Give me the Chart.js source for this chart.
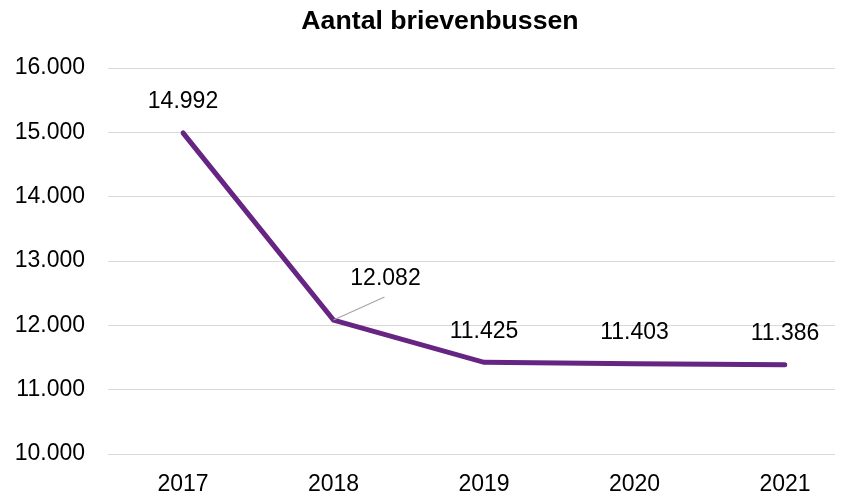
<!DOCTYPE html>
<html>
<head>
<meta charset="utf-8">
<script src="https://cdn.jsdelivr.net/npm/chart.js@4"></script>
<style>
  body { margin: 0; background: #fff; }
</style>
</head>
<body>
<canvas id="chart" width="852" height="496"></canvas>
<script>
const years = ['2017', '2018', '2019', '2020', '2021'];
const brievenbussen = [14992, 12082, 11425, 11403, 11386];
const chartTitle = 'Aantal brievenbussen';

// 16000 -> "16.000"
function fmt(v) {
    return String(Math.round(v)).replace(/\B(?=(\d{3})+(?!\d))/g, '.');
}

Chart.defaults.font.family = "'Liberation Sans', Arial, sans-serif";
Chart.defaults.font.size = 23;
Chart.defaults.color = '#000';

// title drawn a bit right of canvas centre, like the original
const titlePlugin = {
    id: 'titleText',
    afterDraw(chart) {
        const ctx = chart.ctx;
        ctx.save();
        ctx.font = "bold 26.7px 'Liberation Sans', Arial, sans-serif";
        ctx.fillStyle = '#000';
        ctx.textAlign = 'center';
        ctx.textBaseline = 'middle';
        ctx.fillText(chartTitle, 440, 22);
        ctx.restore();
    }
};

// value labels above the points, 2018 pushed aside with a leader line
const valueLabels = {
    id: 'valueLabels',
    afterDatasetsDraw(chart) {
        const ctx = chart.ctx;
        const meta = chart.getDatasetMeta(0);
        ctx.save();
        ctx.font = "23px 'Liberation Sans', Arial, sans-serif";
        ctx.fillStyle = '#000';
        ctx.textAlign = 'center';
        ctx.textBaseline = 'middle';
        meta.data.forEach((pt, i) => {
            let dx = 0, dy = -31;
            if (i === 1) {
                dx = 52; dy = -41;
                ctx.strokeStyle = '#a6a6a6';
                ctx.lineWidth = 1.2;
                ctx.beginPath();
                ctx.moveTo(pt.x, pt.y);
                ctx.lineTo(pt.x + 51, pt.y - 23);
                ctx.stroke();
            }
            ctx.fillText(fmt(brievenbussen[i]), pt.x + dx, pt.y + dy);
        });
        ctx.restore();
    }
};

const ctx = document.getElementById('chart').getContext('2d');

new Chart(ctx, {
    type: 'line',
    data: {
        labels: years,
        datasets: [{
            label: chartTitle,
            data: brievenbussen,
            borderColor: '#662483',
            borderWidth: 5,
            borderCapStyle: 'round',
            pointRadius: 0,
            tension: 0,
            fill: false
        }]
    },
    options: {
        responsive: false,
        animation: false,
        layout: { padding: { top: 68, left: 0, right: 0, bottom: 0 } },
        plugins: {
            legend: { display: false },
            title: { display: false },
            tooltip: { enabled: false }
        },
        scales: {
            x: {
                grid: { display: false },
                border: { display: false },
                ticks: { padding: 9 },
                afterFit(scale) { scale.height = 42; }
            },
            y: {
                position: 'left',
                min: 10000,
                max: 16000,
                border: { display: false },
                grid: { color: '#d9d9d9', lineWidth: 1, tickLength: 75 },
                ticks: { stepSize: 1000, padding: 23, callback: v => fmt(v) },
                afterFit(scale) { scale.width = 183; }
            },
            y2: {
                position: 'right',
                min: 10000,
                max: 16000,
                border: { display: false },
                grid: { color: '#d9d9d9', lineWidth: 1, tickLength: 50, drawOnChartArea: false },
                ticks: { stepSize: 1000, display: false },
                afterFit(scale) { scale.width = 67; }
            }
        }
    },
    plugins: [titlePlugin, valueLabels]
});
</script>
</body>
</html>
